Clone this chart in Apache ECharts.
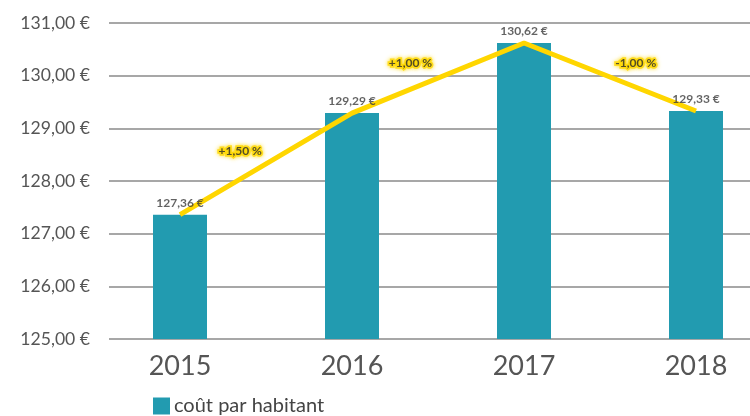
<!DOCTYPE html>
<html>
<head>
<meta charset="utf-8">
<script src="https://cdn.jsdelivr.net/npm/echarts@6/dist/echarts.min.js"></script>
<style>
  html, body { margin: 0; padding: 0; background: #fff; overflow: hidden; }
  /* the last bar slot runs past the right edge in the original, so the chart is wider than the window */
  #chart { width: 782px; height: 416px; }
</style>
</head>
<body>
<div id="chart"></div>
<script>
const years = ['2015', '2016', '2017', '2018'];
const costPerInhabitant = [127.36, 129.29, 130.62, 129.33];
const changeLabels = ['+1,50 %', '+1,00 %', '-1,00 %'];
// where the change labels sit, in data units (category index, euro)
const changeX = [0.35, 1.34, 2.65];
const changeY = [128.57, 130.24, 130.24];

const euro = v => v.toFixed(2).replace('.', ',') + ' €';
const font = 'Lato, "Open Sans", sans-serif';

const chart = echarts.init(document.getElementById('chart'));

chart.setOption({
  animation: false,
  textStyle: { fontFamily: font },
  legend: {
    data: ['coût par habitant'],
    icon: 'rect',
    left: 153,
    bottom: 0,
    padding: 0,
    itemWidth: 17,
    itemHeight: 17,
    itemGap: 8,
    textStyle: { fontSize: 20, color: '#444', fontFamily: font, padding: [2, 0, 0, -1] }
  },
  grid: [
    { left: 109, right: 0, top: 23, bottom: 77 },
    { left: 94, right: 0, top: 23, bottom: 77 }
  ],
  xAxis: [
    { type: 'value', gridIndex: 0, show: false, min: 0, max: 1 },
    {
      type: 'category',
      gridIndex: 1,
      data: years,
      axisLine: { show: false },
      axisTick: { show: false },
      axisLabel: { fontSize: 27, color: '#555', margin: 14 }
    },
    { type: 'value', gridIndex: 1, show: false, min: -0.5, max: 3.5 }
  ],
  yAxis: [
    {
      type: 'value',
      gridIndex: 0,
      min: 125,
      max: 131,
      interval: 1,
      axisLine: { show: false },
      axisTick: { show: false },
      axisLabel: { fontSize: 17.6, color: '#555', margin: 19, formatter: euro },
      splitLine: { lineStyle: { color: '#8a8a8a', width: 1.5 } }
    },
    { type: 'value', gridIndex: 1, min: 125, max: 131, show: false, splitLine: { show: false } }
  ],
  series: [
    {
      name: 'coût par habitant',
      type: 'bar',
      xAxisIndex: 1,
      yAxisIndex: 1,
      barWidth: 54,
      data: costPerInhabitant,
      itemStyle: { color: '#229bb0' },
      z: 1
    },
    {
      name: 'évolution',
      type: 'line',
      xAxisIndex: 1,
      yAxisIndex: 1,
      data: costPerInhabitant,
      symbol: 'none',
      lineStyle: { color: '#ffd600', width: 5 },
      z: 3
    },
    {
      name: 'valeurs',
      type: 'scatter',
      xAxisIndex: 1,
      yAxisIndex: 1,
      symbolSize: 0,
      data: costPerInhabitant,
      label: {
        show: true,
        position: 'top',
        distance: 6,
        fontSize: 12,
        fontWeight: 'bold',
        color: '#3c3c3c',
        formatter: p => euro(p.value)
      },
      z: 4
    },
    {
      name: 'variation',
      type: 'scatter',
      xAxisIndex: 2,
      yAxisIndex: 1,
      symbolSize: 0,
      data: changeLabels.map((t, i) => [changeX[i], changeY[i], t]),
      label: {
        show: true,
        position: 'inside',
        formatter: p => p.value[2],
        fontSize: 12,
        fontWeight: 'bold',
        color: '#2a2a2a',
        textBorderColor: '#ffd800',
        textBorderWidth: 3.5,
        textShadowColor: '#ffd800',
        textShadowBlur: 4
      },
      z: 5
    }
  ]
});
</script>
</body>
</html>
